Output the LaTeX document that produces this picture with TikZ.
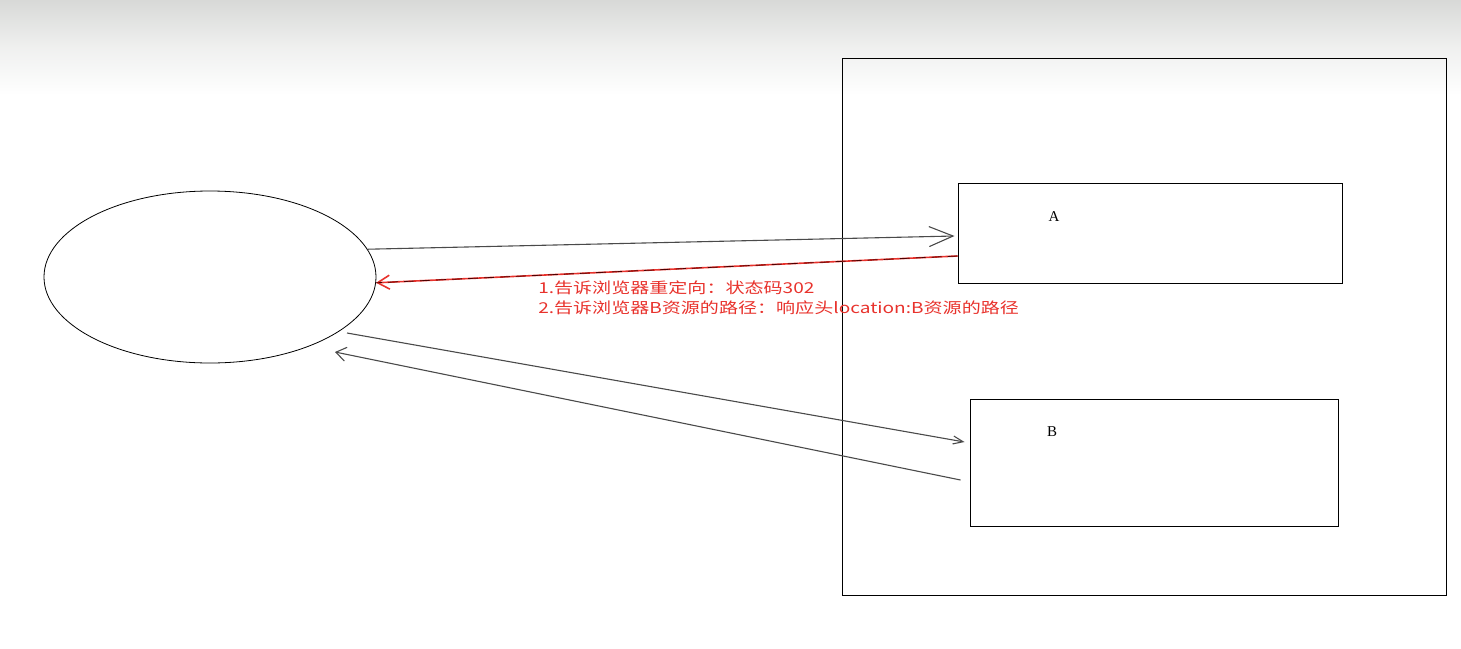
\documentclass[tikz,border=0pt]{standalone}
\usepackage{fontspec}
\setmainfont{Liberation Serif}
\newfontfamily\cjk{Noto Sans CJK SC}
\usetikzlibrary{shapes.geometric,arrows.meta,calc}
\definecolor{redtxt}{HTML}{E8322C}
\definecolor{linegray}{HTML}{4A4A4A}
\definecolor{topgray}{HTML}{D8D9D7}
\tikzset{
  box/.style={draw=black, line width=1pt, minimum width=#1, inner sep=0pt},
  conn/.style={draw=linegray, line width=1.1pt},
  redconn/.style={draw=redtxt, line width=1.6pt},
  lbl/.style={font=\fontsize{15}{15}\selectfont, inner sep=0pt},
  note/.style={font=\cjk\fontsize{15}{15}\selectfont, text=redtxt, inner sep=0pt, anchor=west, xscale=1.27}
}
\begin{document}
\begin{tikzpicture}[x=1pt,y=-1pt]
\useasboundingbox (0,0) rectangle (1461,648);
\shade[top color=topgray, bottom color=white, middle color=topgray!40] (0,0) rectangle (1461,95);
\node[draw=black, line width=0.8pt, shape=ellipse, minimum width=332pt, minimum height=172pt, inner sep=0pt] (client) at (210,277) {};
\node[box=604pt, minimum height=537pt] (server) at (1144,326.5) {};
\node[box=384pt, minimum height=100pt] (A) at (1150,233) {};
\node[box=368pt, minimum height=127pt] (B) at (1154,462.5) {};
\node[lbl] (Alab) at (1054,217) {A};
\node[lbl] (Blab) at (1052,432) {B};
\draw[conn, -{Straight Barb[length=24pt,width=20pt]}] (client.10) -- ($(A.west)+(-3,3)$);
\draw[redconn, -{Straight Barb[length=12pt,width=14pt]}] ($(A.west)+(0,23)$) -- (client.-2);
\draw[draw=black!70!red, line width=0.8pt, dash pattern=on 10pt off 6pt] ($(A.west)+(0,23)$) -- (client.-2);
\draw[conn, -{Straight Barb[length=10pt,width=8pt]}] ($(client.center)+(137,56)$) -- ($(B.west)+(-5,-20.5)$);
\draw[conn, -{Straight Barb[length=10pt,width=14pt]}] ($(B.west)+(-9,17.5)$) -- ($(client.center)+(125,75)$);
\node[note] (n1) at (538,288) {1.告诉浏览器重定向：状态码302};
\node[note] (n2) at (538,308) {2.告诉浏览器B资源的路径：响应头location:B资源的路径};
\end{tikzpicture}
\end{document}
